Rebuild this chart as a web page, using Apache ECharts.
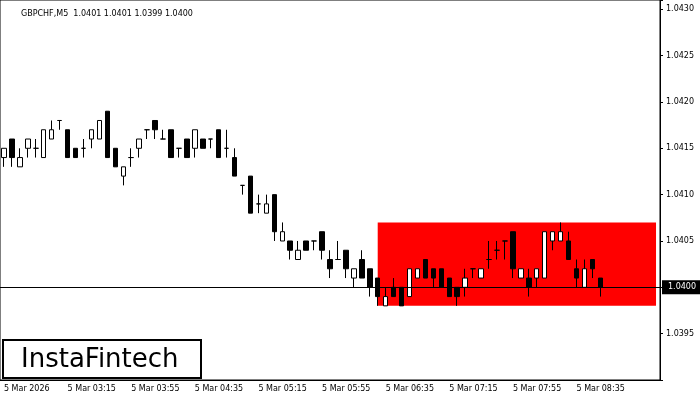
<!DOCTYPE html>
<html>
<head>
<meta charset="utf-8">
<script src="https://cdn.jsdelivr.net/npm/echarts@6/dist/echarts.min.js"></script>
<style>html,body{margin:0;padding:0;background:#fff}</style>
</head>
<body>
<div id="main" style="width:700px;height:400px;"></div>
<script>
var opens  = [1.0414,1.0416,1.0413,1.0415,1.0415,1.0414,1.0416,1.0418,1.0417,1.0415,1.0415,1.0416,1.0416,1.0419,1.0415,1.0412,1.0414,1.0415,1.0417,1.0418,1.0416,1.0417,1.0415,1.0416,1.0415,1.0416,1.0416,1.0417,1.0415,1.0414,1.0411,1.0412,1.0409,1.0408,1.0410,1.0405,1.0405,1.0403,1.0405,1.0405,1.0406,1.0403,1.0403,1.0404,1.0401,1.0403,1.0402,1.0401,1.0398,1.0400,1.0400,1.0399,1.0401,1.0403,1.0402,1.0402,1.0401,1.0400,1.0400,1.0402,1.0401,1.0403,1.0404,1.0405,1.0406,1.0401,1.0401,1.0401,1.0401,1.0405,1.0405,1.0405,1.0402,1.0400,1.0403,1.0401];
var highs  = [1.0415,1.0416,1.0415,1.0416,1.0416,1.0417,1.0418,1.0418,1.0417,1.0415,1.0416,1.0417,1.0418,1.0419,1.0415,1.0413,1.0415,1.0416,1.0417,1.0418,1.0417,1.0417,1.0415,1.0416,1.0417,1.0416,1.0416,1.0417,1.0417,1.0415,1.0411,1.0412,1.0410,1.0410,1.0410,1.0407,1.0405,1.0405,1.0405,1.0405,1.0406,1.0404,1.0405,1.0404,1.0402,1.0404,1.0402,1.0401,1.0400,1.0401,1.0400,1.0402,1.0402,1.0403,1.0402,1.0402,1.0401,1.0400,1.0402,1.0402,1.0402,1.0405,1.0405,1.0405,1.0406,1.0402,1.0402,1.0402,1.0406,1.0406,1.0407,1.0406,1.0403,1.0403,1.0403,1.0401];
var lows   = [1.0413,1.0413,1.0413,1.0414,1.0414,1.0414,1.0416,1.0417,1.0414,1.0414,1.0414,1.0415,1.0416,1.0414,1.0413,1.0411,1.0413,1.0414,1.0416,1.0416,1.0416,1.0414,1.0414,1.0414,1.0414,1.0415,1.0415,1.0414,1.0414,1.0412,1.0410,1.0408,1.0408,1.0408,1.0405,1.0405,1.0403,1.0403,1.0404,1.0404,1.0403,1.0401,1.0403,1.0401,1.0400,1.0401,1.0399,1.0398,1.0398,1.0399,1.0398,1.0399,1.0401,1.0401,1.0400,1.0400,1.0399,1.0398,1.0399,1.0401,1.0401,1.0402,1.0403,1.0403,1.0401,1.0401,1.0399,1.0400,1.0401,1.0404,1.0405,1.0403,1.0400,1.0400,1.0401,1.0399];
var closes = [1.0415,1.0414,1.0414,1.0416,1.0415,1.0417,1.0417,1.0418,1.0414,1.0414,1.0415,1.0417,1.0418,1.0414,1.0413,1.0413,1.0414,1.0416,1.0417,1.0417,1.0416,1.0414,1.0415,1.0414,1.0417,1.0415,1.0416,1.0414,1.0415,1.0412,1.0411,1.0408,1.0409,1.0409,1.0406,1.0406,1.0404,1.0404,1.0404,1.0405,1.0404,1.0402,1.0403,1.0402,1.0402,1.0401,1.0400,1.0399,1.0399,1.0399,1.0398,1.0402,1.0402,1.0401,1.0401,1.0400,1.0399,1.0399,1.0401,1.0402,1.0402,1.0403,1.0404,1.0405,1.0402,1.0402,1.0400,1.0402,1.0406,1.0406,1.0406,1.0403,1.0401,1.0402,1.0402,1.0400];
var yTicks = [1.0395,1.0400,1.0405,1.0410,1.0415,1.0420,1.0425,1.0430];

// 5-minute bars from 02:35, padded with empty slots to the right edge
var times = [];
for (var i = 0; i < 83; i++) {
    var m = 2 * 60 + 35 + i * 5;
    var h = Math.floor(m / 60), mm = m % 60;
    times.push('5 Mar ' + (h < 10 ? '0' : '') + h + ':' + (mm < 10 ? '0' : '') + mm);
}
var candles = [];
for (var i = 0; i < opens.length; i++) {
    candles.push([opens[i], closes[i], lows[i], highs[i]]);
}

var myChart = echarts.init(document.getElementById('main'));
myChart.setOption({
    animation: false,
    backgroundColor: '#fff',
    textStyle: {fontFamily: 'DejaVu Sans'},
    title: {
        text: 'GBPCHF,M5  1.0401 1.0401 1.0399 1.0400',
        left: 16, top: 5,
        textStyle: {fontSize: 8, fontWeight: 'normal', color: '#000', fontFamily: 'DejaVu Sans'}
    },
    grid: {left: 0, right: 40, top: 0, bottom: 20, show: true, borderColor: '#000', borderWidth: 1},
    xAxis: {
        type: 'category',
        data: times,
        boundaryGap: true,
        axisLine: {lineStyle: {color: '#000'}},
        axisTick: {show: false},
        splitLine: {show: false},
        axisLabel: {
            interval: 7, align: 'left', fontSize: 8, color: '#000', margin: 5,
            formatter: function (v, idx) {
                if (idx === 0) return '5 Mar 2026';
                return idx >= 80 ? '' : v;
            }
        }
    },
    yAxis: {
        type: 'value',
        position: 'right',
        min: 1.0390, max: 1.0431, interval: 0.0005,
        axisLine: {show: true, lineStyle: {color: '#000'}},
        axisTick: {show: true, length: 3, lineStyle: {color: '#000'}},
        splitLine: {show: false},
        axisLabel: {
            fontSize: 8, color: '#000', margin: 6,
            formatter: function (v) { return yTicks.indexOf(+v.toFixed(4)) >= 0 ? v.toFixed(4) : ''; }
        }
    },
    series: [{
        type: 'candlestick',
        data: candles,
        barWidth: 5,
        itemStyle: {
            color: '#fff', color0: '#000',
            borderColor: '#000', borderColor0: '#000', borderWidth: 1
        },
        markArea: {
            silent: true,
            z: -1,
            itemStyle: {color: '#ff0000'},
            data: [[{xAxis: times[47], yAxis: 1.0407}, {xAxis: times[82], yAxis: 1.0398}]]
        },
        markLine: {
            silent: true,
            symbol: 'none',
            lineStyle: {color: '#000', width: 1, type: 'solid'},
            label: {
                position: 'end', formatter: '1.0400', color: '#fff', backgroundColor: '#000',
                fontSize: 8, padding: [3, 6], distance: 2
            },
            data: [{yAxis: 1.0400}]
        }
    }],
    graphic: [{
        type: 'group', left: 2, bottom: 21,
        children: [
            {type: 'rect', shape: {x: 0, y: 0, width: 198, height: 38}, style: {fill: '#fff', stroke: '#000', lineWidth: 2}},
            {type: 'text', x: 18, y: 7, style: {text: 'InstaFintech', font: '26px "DejaVu Sans"', fill: '#000'}}
        ]
    }]
});
</script>
</body>
</html>
